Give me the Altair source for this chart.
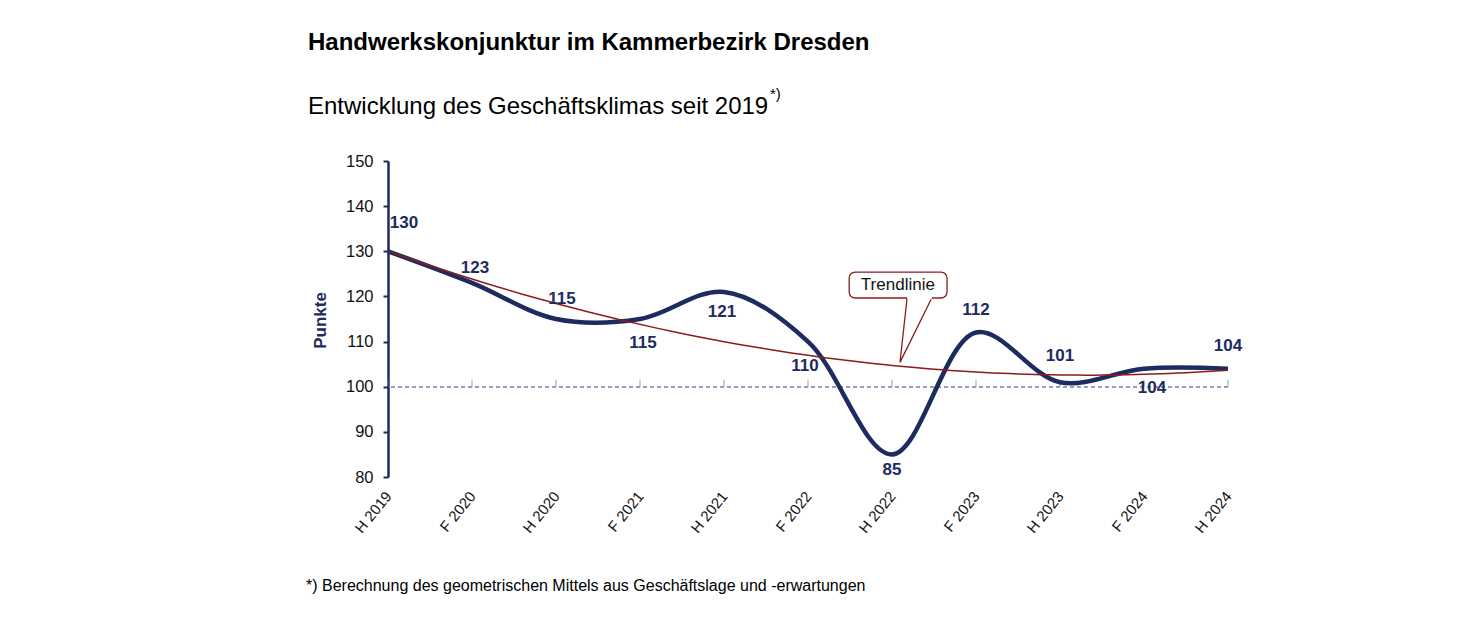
import altair as alt
import pandas as pd

# ---------------- data ----------------
PERIODS = ["H 2019", "F 2020", "H 2020", "F 2021", "H 2021", "F 2022",
           "H 2022", "F 2023", "H 2023", "F 2024", "H 2024"]
VALUES = [130, 123, 115, 115, 121, 110, 85, 112, 101, 104, 104]
Y_TICKS = [80, 90, 100, 110, 120, 130, 140, 150]

# label placement offsets (pixels) for the value labels
LABEL_DX = [16, 3, 6, 3, -2, -3, 0, 0, 0, 8, 0]
LABEL_DY = [-28, -15, -20, 24, 20, 24, 16, -23, -26, 19, -23]

TITLE = "Handwerkskonjunktur im Kammerbezirk Dresden"
SUBTITLE = "Entwicklung des Geschäftsklimas seit 2019"
SUPERSCRIPT = "*)"
FOOTNOTE = "*) Berechnung des geometrischen Mittels aus Geschäftslage und -erwartungen"
Y_TITLE = "Punkte"
CALLOUT = "Trendlinie"

# callout geometry in data units (x index, y points)
CALLOUT_BOX = {"x": 5.49, "x2": 6.655, "y": 125.4, "y2": 119.65}
CALLOUT_PTR_X = [6.18, 6.095, 6.475]
CALLOUT_PTR_Y = [119.7, 105.4, 119.7]
CALLOUT_TEXT_POS = {"x": 6.07, "y": 122.5}

NAVY = "#1D2B5F"
RED = "#8C1C1C"
FONT = "Liberation Sans"

W, H = 840, 316

df = pd.DataFrame({"i": list(range(len(PERIODS))), "period": PERIODS, "value": VALUES})

label_expr = "[" + ",".join(f"'{p}'" for p in PERIODS) + "][datum.value]"

x_enc = alt.X(
    "i:Q",
    scale=alt.Scale(domain=[0, len(PERIODS) - 1], nice=False, zero=False),
    axis=alt.Axis(
        values=list(range(len(PERIODS))), labelExpr=label_expr, labelAngle=309,
        labelAlign="right", labelBaseline="middle", labelPadding=16,
        labelFontSize=15, labelColor="#111111", labelFont=FONT,
        domain=False, ticks=False, grid=False, title=None,
    ),
)
y_enc = alt.Y(
    "value:Q",
    scale=alt.Scale(domain=[80, 150], nice=False, zero=False),
    axis=alt.Axis(
        values=Y_TICKS, grid=False, domainColor=NAVY, domainWidth=2.5,
        tickColor=NAVY, tickWidth=2, tickSize=5, labelPadding=10,
        labelFontSize=16.5, labelColor="#111111", labelFont=FONT,
        title=Y_TITLE, titleFont=FONT, titleFontSize=17, titleFontWeight="bold",
        titleColor=NAVY, titleAngle=270, titleX=-68, titleY=159,
        titleAlign="center", titleBaseline="middle",
    ),
)

base = alt.Chart(df)

ref100 = base.mark_rule(color="#8E9CB8", strokeDash=[4, 3], strokeWidth=1).encode(
    y=alt.datum(100)
)
ticks100 = base.mark_tick(orient="vertical", size=7, thickness=1, color="#777777",
                          yOffset=-3.5).encode(x=alt.X("i:Q"), y=alt.datum(100))

main_line = base.mark_line(interpolate="catmull-rom", strokeWidth=4.5,
                           color=NAVY).encode(x=x_enc, y=y_enc)

trend = base.transform_regression("i", "value", method="poly", order=2).mark_line(
    color=RED, strokeWidth=1.5
).encode(x="i:Q", y="value:Q")

one = pd.DataFrame({"a": [0]})
box = alt.Chart(one).mark_rect(fill="white", stroke=RED, strokeWidth=1.3,
                               cornerRadius=6).encode(
    x=alt.datum(CALLOUT_BOX["x"]), x2=alt.datum(CALLOUT_BOX["x2"]),
    y=alt.datum(CALLOUT_BOX["y"]), y2=alt.datum(CALLOUT_BOX["y2"]),
)
ptr_df = pd.DataFrame({"px": CALLOUT_PTR_X, "py": CALLOUT_PTR_Y, "o": [0, 1, 2]})
pointer = alt.Chart(ptr_df).mark_line(color=RED, strokeWidth=1.3).encode(
    x="px:Q", y="py:Q", order="o:Q"
)
gap = alt.Chart(ptr_df).transform_filter("datum.o != 1").mark_line(
    color="white", strokeWidth=2.5
).encode(x="px:Q", y=alt.datum(CALLOUT_BOX["y2"]), order="o:Q")
callout_txt = alt.Chart(pd.DataFrame({"t": [CALLOUT]})).mark_text(
    font=FONT, fontSize=17, color="#111111"
).encode(x=alt.datum(CALLOUT_TEXT_POS["x"]), y=alt.datum(CALLOUT_TEXT_POS["y"]),
         text="t:N")

labels = [
    base.transform_filter(f"datum.i == {k}").mark_text(
        font=FONT, fontSize=17, fontWeight="bold", color=NAVY,
        dx=LABEL_DX[k], dy=LABEL_DY[k]
    ).encode(x="i:Q", y="value:Q", text="value:Q")
    for k in range(len(PERIODS))
]

def txt(t, xv, yv, size, weight="normal"):
    return alt.Chart(pd.DataFrame({"t": [t]})).mark_text(
        font=FONT, fontSize=size, fontWeight=weight, color="#000000",
        align="left", baseline="alphabetic"
    ).encode(text="t:N", x=alt.value(xv), y=alt.value(yv))

title = txt(TITLE, -80, -111, 24, "bold")
subtitle = txt(SUBTITLE, -80, -47, 24)
sup = txt(SUPERSCRIPT, 382, -62, 15)
foot = txt(FOOTNOTE, -82, 430, 16)

chart = alt.layer(
    ref100, ticks100, main_line, trend, box, pointer, gap, callout_txt,
    *labels, title, subtitle, sup, foot
).properties(
    width=W, height=H,
    autosize=alt.AutoSizeParams(type="none"),
    padding={"left": 380, "top": 153, "right": 200, "bottom": 140},
    background="white",
).configure_view(stroke="transparent", strokeWidth=0)

chart.save("out.html", embed_options={"renderer": "svg", "actions": False})
